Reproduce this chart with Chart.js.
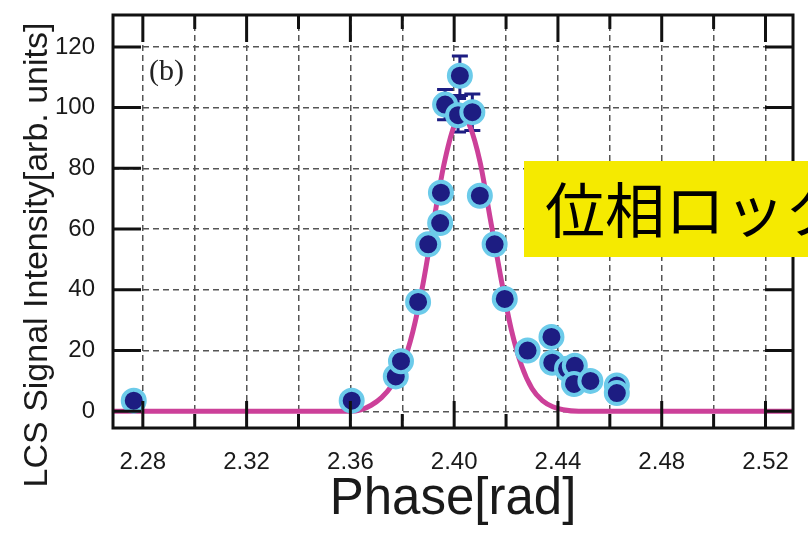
<!DOCTYPE html>
<html>
<head>
<meta charset="utf-8">
<script src="https://cdn.jsdelivr.net/npm/chart.js@4"></script>
<style>
  html, body { margin: 0; padding: 0; background: #fff; }
  #wrap { width: 808px; height: 534px; }
</style>
</head>
<body>
<div id="wrap"><canvas id="lcsChart" width="808" height="534"></canvas></div>
<script>
// measured points
const phase = [2.2765, 2.3605, 2.3775, 2.3795, 2.3861, 2.3900, 2.3946, 2.3949,
               2.3965, 2.4022, 2.4015, 2.4070, 2.4099, 2.4156, 2.4195, 2.4283,
               2.4375, 2.4378, 2.4435, 2.4465, 2.4462, 2.4525, 2.4627, 2.4627];
const intensity = [3.5, 3.5, 11.5, 16.5, 36, 55, 62, 72,
                   101, 110.5, 97.5, 98.5, 71, 55, 37, 20,
                   24.5, 16, 14, 15, 9, 10, 8.5, 6];
const errors = [0, 0, 0, 0, 0, 0, 0, 0,
                5, 6.5, 5.5, 6, 0, 0, 0, 0,
                0, 0, 0, 0, 0, 0, 0, 0];

// fitted curve
const fitPhase = [2.2685, 2.300, 2.340, 2.360, 2.364, 2.368, 2.372, 2.376, 2.380,
                  2.384, 2.388, 2.392, 2.396, 2.400, 2.403, 2.406, 2.410, 2.414,
                  2.418, 2.422, 2.426, 2.430, 2.434, 2.438, 2.442, 2.448, 2.490, 2.5306];
const fitIntensity = [0, 0, 0, 0, 0.5, 2, 4.5, 8.5, 15,
                      26, 42, 62, 81, 94, 97.5, 94, 82, 63,
                      44, 27, 15, 7.5, 3.5, 1.5, 0.5, 0, 0, 0];

// axes
const xGrid = [2.28, 2.30, 2.32, 2.34, 2.36, 2.38, 2.40, 2.42, 2.44, 2.46, 2.48, 2.50, 2.52];
const xTickLabels = ['2.28', '2.32', '2.36', '2.40', '2.44', '2.48', '2.52'];
const yGrid = [0, 20, 40, 60, 80, 100, 120];

const tickFont = { family: 'Liberation Sans, Arial, sans-serif', size: 24 };

// error bars under the markers
const errorBars = {
  id: 'errorBars',
  beforeDatasetsDraw(chart) {
    const { ctx, scales: { x, y } } = chart;
    ctx.save();
    ctx.strokeStyle = '#1d1d82';
    ctx.lineWidth = 3;
    ctx.beginPath();
    errors.forEach((e, i) => {
      if (!e) return;
      const px = x.getPixelForValue(phase[i]);
      const top = y.getPixelForValue(intensity[i] + e);
      const bot = y.getPixelForValue(intensity[i] - e);
      ctx.moveTo(px, top); ctx.lineTo(px, bot);
      ctx.moveTo(px - 8, top); ctx.lineTo(px + 8, top);
      ctx.moveTo(px - 8, bot); ctx.lineTo(px + 8, bot);
    });
    ctx.stroke();
    ctx.restore();
  }
};

// frame, inward ticks, panel tag, y title and the banner
const frame = {
  id: 'frame',
  afterDraw(chart) {
    const { ctx, chartArea: a, scales: { x, y } } = chart;
    ctx.save();
    ctx.strokeStyle = '#111';
    ctx.lineWidth = 3;
    ctx.beginPath();
    xGrid.forEach(v => {
      const px = x.getPixelForValue(v);
      const len = xTickLabels.includes(v.toFixed(2)) ? 27 : 14;
      ctx.moveTo(px, a.bottom); ctx.lineTo(px, a.bottom - len);
      ctx.moveTo(px, a.top); ctx.lineTo(px, a.top + len);
    });
    yGrid.forEach(v => {
      const py = y.getPixelForValue(v);
      ctx.moveTo(a.left, py); ctx.lineTo(a.left + 28, py);
      ctx.moveTo(a.right, py); ctx.lineTo(a.right - 28, py);
    });
    ctx.stroke();
    ctx.strokeRect(a.left, a.top, a.right - a.left, a.bottom - a.top);

    ctx.fillStyle = '#222';
    ctx.font = '30px "Liberation Serif", "Times New Roman", serif';
    ctx.textAlign = 'left';
    ctx.textBaseline = 'middle';
    ctx.fillText('(b)', 149, 72);

    ctx.save();
    ctx.translate(38, 255);
    ctx.rotate(-Math.PI / 2);
    ctx.font = '34px "Liberation Sans", Arial, sans-serif';
    ctx.textAlign = 'center';
    ctx.fillStyle = '#1a1a1a';
    ctx.fillText('LCS Signal Intensity[arb. units]', 0, 0);
    ctx.restore();

    ctx.fillStyle = '#f5ea00';
    ctx.fillRect(524, 161, 300, 96);
    ctx.fillStyle = '#000';
    ctx.font = '60px "Noto Sans CJK JP", sans-serif';
    ctx.textAlign = 'left';
    ctx.fillText('位相ロック', 545, 210);
    ctx.restore();
  }
};

const ctx = document.getElementById('lcsChart').getContext('2d');
const lcsChart = new Chart(ctx, {
  type: 'scatter',
  data: {
    datasets: [{
      label: 'LCS signal',
      data: phase.map((p, i) => ({ x: p, y: intensity[i] })),
      order: 0,
      pointRadius: 11,
      pointBorderWidth: 4,
      backgroundColor: '#1d1d82',
      borderColor: '#6ccbea'
    }, {
      label: 'fit',
      data: fitPhase.map((p, i) => ({ x: p, y: fitIntensity[i] })),
      order: 1,
      showLine: true,
      cubicInterpolationMode: 'monotone',
      pointRadius: 0,
      borderColor: '#cc4099',
      borderWidth: 5
    }]
  },
  options: {
    responsive: false,
    animation: false,
    events: [],
    layout: { padding: { top: 11, right: 11, left: 0, bottom: 0 } },
    plugins: { legend: { display: false }, tooltip: { enabled: false } },
    scales: {
      x: {
        type: 'linear',
        min: 2.2685,
        max: 2.5306,
        afterBuildTicks: s => { s.ticks = xGrid.map(v => ({ value: v })); },
        afterFit: s => { s.height = 106; s.paddingLeft = 0; s.paddingRight = 0; },
        grid: { color: '#555', lineWidth: 1.5, drawTicks: false },
        border: { display: false, dash: [6, 4] },
        ticks: {
          autoSkip: false,
          maxRotation: 0,
          padding: 20,
          color: '#1a1a1a',
          font: tickFont,
          callback: v => xTickLabels.includes(v.toFixed(2)) ? v.toFixed(2) : ''
        },
        title: {
          display: true,
          text: 'Phase[rad]',
          color: '#1a1a1a',
          font: { family: 'Liberation Sans, Arial, sans-serif', size: 51 },
          padding: { top: 0, bottom: 3 }
        }
      },
      y: {
        min: -5.5,
        max: 130.5,
        afterBuildTicks: s => { s.ticks = yGrid.map(v => ({ value: v })); },
        afterFit: s => { s.width = 113; s.paddingTop = 0; s.paddingBottom = 0; },
        grid: { color: '#555', lineWidth: 1.5, drawTicks: false },
        border: { display: false, dash: [6, 4] },
        ticks: {
          autoSkip: false,
          padding: 18,
          color: '#1a1a1a',
          font: tickFont,
          callback: v => String(v)
        }
      }
    }
  },
  plugins: [errorBars, frame]
});
</script>
</body>
</html>
